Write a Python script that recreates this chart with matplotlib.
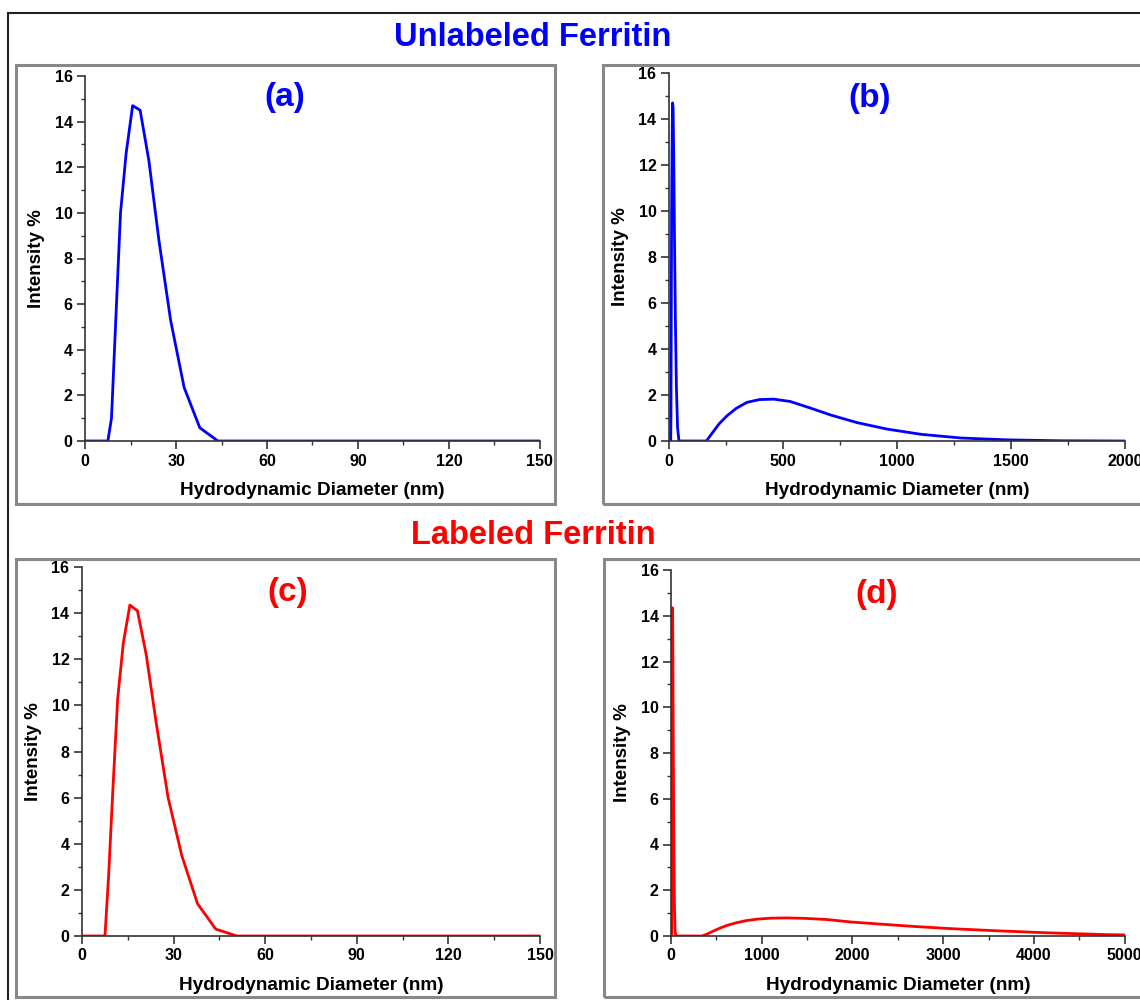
import numpy as np
import matplotlib.pyplot as plt
from matplotlib.patches import Rectangle
from matplotlib.ticker import MultipleLocator

plt.rcParams['font.family'] = ['Liberation Sans', 'DejaVu Sans']
plt.rcParams['font.weight'] = 'bold'

# --- Size bins (nm) and intensity distributions ---
diametro = [0, 7.531, 8.721, 10.10, 11.70, 13.54, 15.69, 18.17, 21.04, 24.36,
            28.21, 32.67, 37.84, 43.82, 50.75, 58.77, 68.06, 78.82, 91.28,
            105.7, 122.4, 141.8, 164.2, 190.1, 220.2, 255.0, 295.3, 342.0,
            396.1, 458.7, 531.2, 615.1, 712.4, 825.0, 955.4, 1106, 1281, 1484,
            1718, 1990, 2305, 2669, 3091, 3580, 4145, 4801, 5560]

int_sin_marcar = [0, 0, 1.0, 5.2, 10.0, 12.6, 14.7, 14.5, 12.3, 8.8,
                  5.3, 2.35, 0.58, 0, 0, 0, 0, 0, 0,
                  0, 0, 0, 0, 0.35, 0.75, 1.1, 1.42, 1.68,
                  1.8, 1.82, 1.72, 1.45, 1.12, 0.8, 0.52, 0.29, 0.13, 0.05,
                  0.01, 0, 0, 0, 0, 0, 0, 0, 0]

int_marcada = [0, 0, 2.6, 6.3, 10.3, 12.7, 14.35, 14.1, 12.2, 9.2,
               6.0, 3.5, 1.4, 0.3, 0, 0, 0, 0, 0,
               0, 0, 0, 0, 0, 0, 0, 0, 0,
               0.08, 0.2, 0.33, 0.46, 0.57, 0.67, 0.74, 0.78, 0.79, 0.77,
               0.72, 0.61, 0.52, 0.42, 0.32, 0.23, 0.14, 0.06, 0.02]

# --- Panels: (label, data, color, xmax, xstep, position, label pos) ---
paneles = [
    ("(a)", int_sin_marcar, "#0000FF", 150, 30, [0.0746, 0.559, 0.399, 0.365], (0.44, 0.94)),
    ("(b)", int_sin_marcar, "#0000FF", 2000, 500, [0.5868, 0.559, 0.400, 0.368], (0.44, 0.932)),
    ("(c)", int_marcada, "#FF0000", 150, 30, [0.0719, 0.064, 0.4018, 0.369], (0.45, 0.93)),
    ("(d)", int_marcada, "#FF0000", 5000, 1000, [0.5886, 0.064, 0.398, 0.366], (0.454, 0.932)),
]

fig = plt.figure(figsize=(11.4, 10), dpi=100)

# marco exterior
fig.patches.append(Rectangle((7.5 / 1140, -0.01), 1.1, 1 - 12.5 / 1000 + 0.01,
                             transform=fig.transFigure, fill=False,
                             edgecolor="#222222", linewidth=1.5))

# marcos grises de cada panel (en pixeles)
marcos = [(16, 65, 555, 504), (603, 65, 1160, 504),
          (16, 559, 555, 997), (604, 559, 1160, 997)]
for x0, y0, x1, y1 in marcos:
    fig.patches.append(Rectangle((x0 / 1140, 1 - y1 / 1000), (x1 - x0) / 1140,
                                 (y1 - y0) / 1000, transform=fig.transFigure,
                                 fill=False, edgecolor="#888888", linewidth=2.2))

for etiqueta, datos, color, xmax, paso, pos, lpos in paneles:
    ax = fig.add_axes(pos)
    ax.plot(diametro, datos, color=color, linewidth=2.0, clip_on=True)
    ax.set_xlim(0, xmax)
    ax.set_ylim(0, 16)
    ax.xaxis.set_major_locator(MultipleLocator(paso))
    ax.xaxis.set_minor_locator(MultipleLocator(paso / 2))
    ax.yaxis.set_major_locator(MultipleLocator(2))
    ax.yaxis.set_minor_locator(MultipleLocator(1))
    for lado in ["top", "right"]:
        ax.spines[lado].set_visible(False)
    for lado in ["left", "bottom"]:
        ax.spines[lado].set_color("#333333")
        ax.spines[lado].set_linewidth(1.2)
    ax.tick_params(which="major", direction="out", length=6, width=1.2,
                   color="#333333", labelsize=11.5, pad=3)
    ax.tick_params(which="minor", direction="out", length=3, width=1.0,
                   color="#333333")
    for t in ax.get_xticklabels() + ax.get_yticklabels():
        t.set_fontweight("bold")
    ax.set_xlabel("Hydrodynamic Diameter (nm)", fontsize=13.7,
                  fontweight="bold", labelpad=10)
    ax.set_ylabel("Intensity %", fontsize=13.5, fontweight="bold", labelpad=7)
    ax.text(lpos[0], lpos[1], etiqueta, transform=ax.transAxes, ha="center",
            va="center", fontsize=24, fontweight="bold", color=color)

fig.text(533 / 1140, 1 - 37 / 1000, "Unlabeled Ferritin", ha="center",
         va="center", fontsize=23.5, fontweight="bold", color="#0000FF")
fig.text(533 / 1140, 1 - 535 / 1000, "Labeled Ferritin", ha="center",
         va="center", fontsize=23.5, fontweight="bold", color="#FF0000")

fig.savefig("out.png", dpi=100)
